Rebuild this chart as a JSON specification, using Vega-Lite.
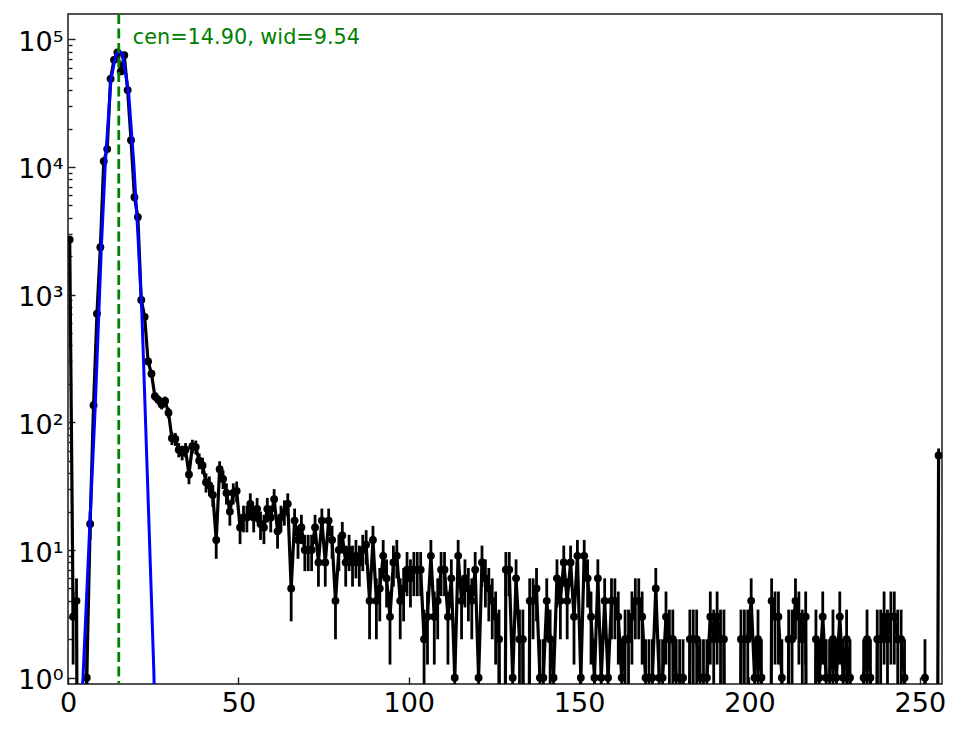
{
  "$schema": "https://vega.github.io/schema/vega-lite/v6.json",
  "width": 874,
  "height": 670,
  "autosize": {"type": "none"},
  "padding": {"left": 68, "top": 14, "right": 22, "bottom": 45},
  "background": "white",
  "config": {
    "font": "DejaVu Sans",
    "view": {"stroke": "#1a1a1a", "strokeWidth": 1.5},
    "axis": {
      "domain": false,
      "grid": false,
      "title": null,
      "labelColor": "black",
      "labelFontSize": 27,
      "tickColor": "#1a1a1a",
      "tickWidth": 1.4,
      "labelOverlap": false,
      "labelFlush": false
    }
  },
  "datasets": {
    "hist": [
      {"x": 0.5, "n": 2700}, {"x": 1.5, "n": 3}, {"x": 2.5, "n": 4}, {"x": 3.5, "n": 0},
      {"x": 4.5, "n": 0}, {"x": 5.5, "n": 1}, {"x": 6.5, "n": 16}, {"x": 7.5, "n": 136},
      {"x": 8.5, "n": 708}, {"x": 9.5, "n": 2350}, {"x": 10.5, "n": 11100}, {"x": 11.5, "n": 13800},
      {"x": 12.5, "n": 49000}, {"x": 13.5, "n": 69000}, {"x": 14.5, "n": 79000}, {"x": 15.5, "n": 56000},
      {"x": 16.5, "n": 75000}, {"x": 17.5, "n": 40000}, {"x": 18.5, "n": 16200}, {"x": 19.5, "n": 5800},
      {"x": 20.5, "n": 4050}, {"x": 21.5, "n": 910}, {"x": 22.5, "n": 670}, {"x": 23.5, "n": 300},
      {"x": 24.5, "n": 240}, {"x": 25.5, "n": 160}, {"x": 26.5, "n": 150}, {"x": 27.5, "n": 138},
      {"x": 28.5, "n": 147}, {"x": 29.5, "n": 119}, {"x": 30.5, "n": 75}, {"x": 31.5, "n": 74},
      {"x": 32.5, "n": 61}, {"x": 33.5, "n": 58}, {"x": 34.5, "n": 61}, {"x": 35.5, "n": 39},
      {"x": 36.5, "n": 65}, {"x": 37.5, "n": 64}, {"x": 38.5, "n": 50}, {"x": 39.5, "n": 46},
      {"x": 40.5, "n": 34}, {"x": 41.5, "n": 32}, {"x": 42.5, "n": 27}, {"x": 43.5, "n": 12},
      {"x": 44.5, "n": 43}, {"x": 45.5, "n": 36}, {"x": 46.5, "n": 28}, {"x": 47.5, "n": 20},
      {"x": 48.5, "n": 28}, {"x": 49.5, "n": 29}, {"x": 50.5, "n": 15}, {"x": 51.5, "n": 18},
      {"x": 52.5, "n": 18}, {"x": 53.5, "n": 23}, {"x": 54.5, "n": 18}, {"x": 55.5, "n": 21},
      {"x": 56.5, "n": 16}, {"x": 57.5, "n": 15}, {"x": 58.5, "n": 21}, {"x": 59.5, "n": 18},
      {"x": 60.5, "n": 25}, {"x": 61.5, "n": 14}, {"x": 62.5, "n": 18}, {"x": 63.5, "n": 20},
      {"x": 64.5, "n": 23}, {"x": 65.5, "n": 5}, {"x": 66.5, "n": 17}, {"x": 67.5, "n": 12},
      {"x": 68.5, "n": 15}, {"x": 69.5, "n": 10}, {"x": 70.5, "n": 10}, {"x": 71.5, "n": 10},
      {"x": 72.5, "n": 15}, {"x": 73.5, "n": 8}, {"x": 74.5, "n": 17}, {"x": 75.5, "n": 8},
      {"x": 76.5, "n": 17}, {"x": 77.5, "n": 12}, {"x": 78.5, "n": 4}, {"x": 79.5, "n": 10},
      {"x": 80.5, "n": 13}, {"x": 81.5, "n": 8}, {"x": 82.5, "n": 10}, {"x": 83.5, "n": 8},
      {"x": 84.5, "n": 9}, {"x": 85.5, "n": 8}, {"x": 86.5, "n": 10}, {"x": 87.5, "n": 11},
      {"x": 88.5, "n": 4}, {"x": 89.5, "n": 12}, {"x": 90.5, "n": 4}, {"x": 91.5, "n": 5},
      {"x": 92.5, "n": 9}, {"x": 93.5, "n": 6}, {"x": 94.5, "n": 3}, {"x": 95.5, "n": 8},
      {"x": 96.5, "n": 9}, {"x": 97.5, "n": 4}, {"x": 98.5, "n": 5}, {"x": 99.5, "n": 7},
      {"x": 100.5, "n": 6}, {"x": 101.5, "n": 7}, {"x": 102.5, "n": 7}, {"x": 103.5, "n": 7},
      {"x": 104.5, "n": 2}, {"x": 105.5, "n": 3}, {"x": 106.5, "n": 9}, {"x": 107.5, "n": 3},
      {"x": 108.5, "n": 4}, {"x": 109.5, "n": 7}, {"x": 110.5, "n": 7}, {"x": 111.5, "n": 3},
      {"x": 112.5, "n": 6}, {"x": 113.5, "n": 1}, {"x": 114.5, "n": 9}, {"x": 115.5, "n": 4},
      {"x": 116.5, "n": 6}, {"x": 117.5, "n": 5}, {"x": 118.5, "n": 4}, {"x": 119.5, "n": 7},
      {"x": 120.5, "n": 1}, {"x": 121.5, "n": 8}, {"x": 122.5, "n": 6}, {"x": 123.5, "n": 5},
      {"x": 124.5, "n": 4}, {"x": 125.5, "n": 3}, {"x": 126.5, "n": 2}, {"x": 127.5, "n": 0},
      {"x": 128.5, "n": 7}, {"x": 129.5, "n": 7}, {"x": 130.5, "n": 1}, {"x": 131.5, "n": 6},
      {"x": 132.5, "n": 2}, {"x": 133.5, "n": 2}, {"x": 134.5, "n": 0}, {"x": 135.5, "n": 4},
      {"x": 136.5, "n": 4}, {"x": 137.5, "n": 5}, {"x": 138.5, "n": 1}, {"x": 139.5, "n": 1},
      {"x": 140.5, "n": 4}, {"x": 141.5, "n": 2}, {"x": 142.5, "n": 1}, {"x": 143.5, "n": 6},
      {"x": 144.5, "n": 4}, {"x": 145.5, "n": 8}, {"x": 146.5, "n": 4}, {"x": 147.5, "n": 8},
      {"x": 148.5, "n": 3}, {"x": 149.5, "n": 9}, {"x": 150.5, "n": 1}, {"x": 151.5, "n": 9},
      {"x": 152.5, "n": 6}, {"x": 153.5, "n": 3}, {"x": 154.5, "n": 1}, {"x": 155.5, "n": 6},
      {"x": 156.5, "n": 1}, {"x": 157.5, "n": 4}, {"x": 158.5, "n": 1}, {"x": 159.5, "n": 4},
      {"x": 160.5, "n": 4}, {"x": 161.5, "n": 3}, {"x": 162.5, "n": 1}, {"x": 163.5, "n": 2},
      {"x": 164.5, "n": 2}, {"x": 165.5, "n": 3}, {"x": 166.5, "n": 4}, {"x": 167.5, "n": 4},
      {"x": 168.5, "n": 3}, {"x": 169.5, "n": 1}, {"x": 170.5, "n": 1}, {"x": 171.5, "n": 1},
      {"x": 172.5, "n": 5}, {"x": 173.5, "n": 1}, {"x": 174.5, "n": 1}, {"x": 175.5, "n": 3},
      {"x": 176.5, "n": 2}, {"x": 177.5, "n": 2}, {"x": 178.5, "n": 1}, {"x": 179.5, "n": 1},
      {"x": 180.5, "n": 1}, {"x": 181.5, "n": 0}, {"x": 182.5, "n": 2}, {"x": 183.5, "n": 2},
      {"x": 184.5, "n": 2}, {"x": 185.5, "n": 1}, {"x": 186.5, "n": 1}, {"x": 187.5, "n": 1},
      {"x": 188.5, "n": 3}, {"x": 189.5, "n": 2}, {"x": 190.5, "n": 3}, {"x": 191.5, "n": 2},
      {"x": 192.5, "n": 2}, {"x": 193.5, "n": 0}, {"x": 194.5, "n": 0}, {"x": 195.5, "n": 0},
      {"x": 196.5, "n": 0}, {"x": 197.5, "n": 2}, {"x": 198.5, "n": 2}, {"x": 199.5, "n": 2},
      {"x": 200.5, "n": 4}, {"x": 201.5, "n": 1}, {"x": 202.5, "n": 2}, {"x": 203.5, "n": 1},
      {"x": 204.5, "n": 0}, {"x": 205.5, "n": 0}, {"x": 206.5, "n": 4}, {"x": 207.5, "n": 3},
      {"x": 208.5, "n": 3}, {"x": 209.5, "n": 1}, {"x": 210.5, "n": 0}, {"x": 211.5, "n": 2},
      {"x": 212.5, "n": 2}, {"x": 213.5, "n": 4}, {"x": 214.5, "n": 3}, {"x": 215.5, "n": 2},
      {"x": 216.5, "n": 3}, {"x": 217.5, "n": 0}, {"x": 218.5, "n": 0}, {"x": 219.5, "n": 2},
      {"x": 220.5, "n": 1}, {"x": 221.5, "n": 3}, {"x": 222.5, "n": 1}, {"x": 223.5, "n": 1},
      {"x": 224.5, "n": 2}, {"x": 225.5, "n": 1}, {"x": 226.5, "n": 3}, {"x": 227.5, "n": 1},
      {"x": 228.5, "n": 2}, {"x": 229.5, "n": 1}, {"x": 230.5, "n": 0}, {"x": 231.5, "n": 0},
      {"x": 232.5, "n": 0}, {"x": 233.5, "n": 1}, {"x": 234.5, "n": 2}, {"x": 235.5, "n": 1},
      {"x": 236.5, "n": 0}, {"x": 237.5, "n": 2}, {"x": 238.5, "n": 2}, {"x": 239.5, "n": 3},
      {"x": 240.5, "n": 2}, {"x": 241.5, "n": 3}, {"x": 242.5, "n": 3}, {"x": 243.5, "n": 2},
      {"x": 244.5, "n": 2}, {"x": 245.5, "n": 1}, {"x": 246.5, "n": 0}, {"x": 247.5, "n": 0},
      {"x": 248.5, "n": 0}, {"x": 249.5, "n": 0}, {"x": 250.5, "n": 0}, {"x": 251.5, "n": 1},
      {"x": 252.5, "n": 0}, {"x": 253.5, "n": 0}, {"x": 254.5, "n": 0}, {"x": 255.5, "n": 55}
    ],
    "fit": [
      {"x": 4.0, "model": 0.6}, {"x": 4.4, "model": 1.0}, {"x": 6.5, "model": 18},
      {"x": 8.0, "model": 134}, {"x": 9.8, "model": 2400}, {"x": 11.0, "model": 11300},
      {"x": 12.6, "model": 48000}, {"x": 14.0, "model": 75000}, {"x": 15.0, "model": 81000},
      {"x": 16.0, "model": 77000}, {"x": 17.8, "model": 38000}, {"x": 19.3, "model": 10700},
      {"x": 20.5, "model": 3000}, {"x": 21.7, "model": 700}, {"x": 22.7, "model": 112},
      {"x": 23.7, "model": 18}, {"x": 24.7, "model": 2.8}, {"x": 25.2, "model": 1.1},
      {"x": 25.5, "model": 0.5}
    ],
    "marker": [
      {"cen": 14.9, "wid": 9.54, "label": "cen=14.90, wid=9.54"}
    ]
  },
  "encoding": {
    "x": {
      "field": "x",
      "type": "quantitative",
      "scale": {"domain": [0, 256.5], "nice": false, "zero": false},
      "axis": {
        "values": [0, 50, 100, 150, 200, 250],
        "tickSize": -7,
        "labelPadding": 13,
        "format": "d"
      }
    }
  },
  "layer": [
    {
      "data": {"name": "hist"},
      "transform": [{"calculate": "max(datum.n, 1e-6)", "as": "nline"}],
      "mark": {"type": "line", "color": "black", "strokeWidth": 3.2, "strokeJoin": "round", "clip": true},
      "encoding": {
        "y": {
          "field": "nline",
          "type": "quantitative",
          "scale": {"type": "log", "domain": [0.893, 157700], "nice": false},
          "axis": {
            "values": [1, 2, 3, 4, 5, 6, 7, 8, 9, 10, 20, 30, 40, 50, 60, 70, 80, 90, 100, 200, 300, 400, 500, 600, 700, 800, 900, 1000, 2000, 3000, 4000, 5000, 6000, 7000, 8000, 9000, 10000, 20000, 30000, 40000, 50000, 60000, 70000, 80000, 90000, 100000],
            "labelExpr": "datum.value == 1 ? '10⁰' : datum.value == 10 ? '10¹' : datum.value == 100 ? '10²' : datum.value == 1000 ? '10³' : datum.value == 10000 ? '10⁴' : datum.value == 100000 ? '10⁵' : ''",
            "tickSize": {"condition": {"test": "indexof([1, 10, 100, 1000, 10000, 100000], datum.value) >= 0", "value": -7}, "value": -4},
            "labelPadding": 12,
            "labelOffset": 3
          }
        }
      }
    },
    {
      "data": {"name": "hist"},
      "transform": [
        {"filter": "datum.n > 0"},
        {"calculate": "max(datum.n - sqrt(datum.n), 1e-6)", "as": "lo"},
        {"calculate": "datum.n + sqrt(datum.n)", "as": "hi"}
      ],
      "mark": {"type": "rule", "color": "black", "strokeWidth": 2.8, "clip": true},
      "encoding": {
        "y": {"field": "lo", "type": "quantitative"},
        "y2": {"field": "hi"}
      }
    },
    {
      "data": {"name": "hist"},
      "transform": [{"filter": "datum.n > 0"}],
      "mark": {"type": "circle", "color": "black", "size": 62, "opacity": 1, "clip": true},
      "encoding": {
        "y": {"field": "n", "type": "quantitative"}
      }
    },
    {
      "data": {"name": "fit"},
      "mark": {"type": "line", "color": "#0000ff", "strokeWidth": 3, "strokeJoin": "round", "clip": true},
      "encoding": {
        "y": {"field": "model", "type": "quantitative"}
      }
    },
    {
      "data": {"name": "marker"},
      "mark": {"type": "rule", "color": "#008000", "strokeWidth": 2.8, "strokeDash": [10, 4.5]},
      "encoding": {
        "x": {"field": "cen", "type": "quantitative"}
      }
    },
    {
      "data": {"name": "marker"},
      "mark": {"type": "text", "color": "#008000", "fontSize": 20.8, "align": "left", "baseline": "alphabetic", "dx": 14},
      "encoding": {
        "x": {"field": "cen", "type": "quantitative"},
        "y": {"datum": 91700},
        "text": {"field": "label"}
      }
    }
  ]
}
